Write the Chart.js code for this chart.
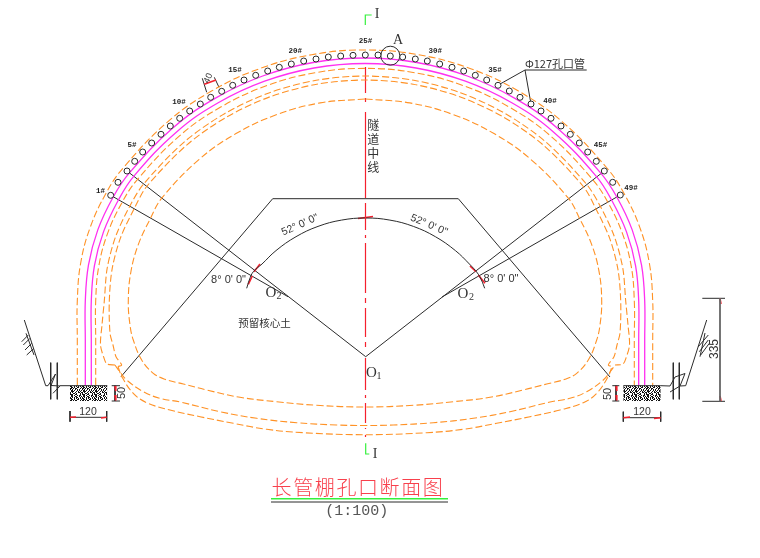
<!DOCTYPE html>
<html><head><meta charset="utf-8">
<style>html,body{margin:0;padding:0;background:#fff}canvas{display:block}</style>
<script src="https://cdn.jsdelivr.net/npm/chart.js@4"></script>
</head><body><canvas id="c" width="760" height="558" style="width:760px;height:558px"></canvas>
<script>
// ---- values (drawing units = reference pixels) ----
const pipeHoles=[[110.7,195.3],[118,182.3],[127,171],[134.7,161.3],[142.7,152],[151.7,143],[161,134.3],[170.3,126],[179.7,118.3],[189.7,111],[200.3,104],[210.7,97.3],[221.7,91.3],[232.7,85.3],[244,80],[255.7,75.3],[267.7,71],[279.3,67.3],[291.3,64],[303.7,61],[316,59],[328.3,57],[340.7,56],[353,55.3],[365.3,55],[378,55],[390.3,56],[402.7,57],[415.3,59],[427.3,61],[439.7,64],[452,67.3],[463.7,71],[475.3,75.3],[486.7,80],[498,85.3],[509.3,91],[520,97.3],[531,104],[541,111],[551,118.3],[561,126],[570.3,134.3],[579.3,143],[587.7,152],[596.3,161.3],[604.3,171],[612.7,182.3],[620.3,195]];
const outerOrange=[[77.3,385],[77.3,340],[77.3,301],[80.6,263.5],[90.3,227.1],[106.2,193],[123.1,168],[167.7,121.8],[211.5,91.1],[260,68.5],[311.7,54.7],[365,50],[418.3,54.7],[470,68.5],[518.5,91.1],[562.3,121.8],[606.9,168],[623.8,193],[639.7,227.1],[649.4,263.5],[652.7,301],[652.7,340],[652.7,385]];
const magentaOuter=[[85.3,385],[85.3,340],[85.3,301],[88.5,264.9],[97.8,229.9],[113.2,197],[129.4,172.9],[172.8,128],[215.5,98.1],[262.7,76],[313.1,62.5],[365,58],[416.9,62.5],[467.3,76],[514.5,98.1],[557.2,128],[600.6,172.9],[616.8,197],[632.2,229.9],[641.5,264.9],[644.7,301],[644.7,340],[644.7,385]];
const magentaInner=[[91.3,385],[91.3,340],[91.3,301],[94.4,265.9],[103.5,231.9],[118.4,200],[133.7,176.3],[176.3,132.2],[218.2,102.8],[264.6,81.2],[314,68],[365,63.5],[416,68],[465.4,81.2],[511.8,102.8],[553.7,132.2],[596.3,176.3],[611.6,200],[626.5,231.9],[635.6,265.9],[638.7,301],[638.7,340],[638.7,385]];
const liningOrange=[[95.7,385],[95.7,340],[95.7,301],[98.7,266.7],[107.6,233.4],[122.2,202.2],[137.6,179.3],[179.5,135.9],[220.7,107.1],[266.3,85.8],[314.9,72.8],[365,68.4],[415.1,72.8],[463.7,85.8],[509.3,107.1],[550.5,135.9],[592.4,179.3],[607.8,202.2],[622.4,233.4],[631.3,266.7],[634.3,301],[634.3,340],[634.3,385]];
const archA=[[115,365],[107,364],[104,358],[100.5,345],[102,325],[104.3,301],[107.2,268.2],[115.7,236.4],[129.6,206.5],[143.6,184],[184.4,141.8],[224.5,113.7],[268.9,92.9],[316.2,80.3],[365,76],[413.8,80.3],[461.1,92.9],[505.5,113.7],[545.6,141.8],[586.4,184],[600.4,206.5],[614.3,236.4],[622.8,268.2],[625.7,301],[628,325],[629.5,345],[626,358],[623,364],[615,365]];
const archB=[[118,366.5],[121.7,365],[116,356.7],[113,345],[110,333],[109.3,301],[112.1,269.1],[120.4,238.1],[134,209],[146.7,186.5],[187,144.8],[226.5,117.1],[270.3,96.7],[316.9,84.2],[365,80],[413.1,84.2],[459.7,96.7],[503.5,117.1],[543,144.8],[583.3,186.5],[596,209],[609.6,238.1],[617.9,269.1],[620.7,301],[620,333],[617,345],[614,356.7],[608.3,365],[612,366.5]];
const invertA=[[115,365],[120,372],[126.7,380],[143.3,391.7],[160,398.3],[180,402],[220,411.7],[256.7,418.3],[296.7,422.7],[336.7,425],[365,425.5],[393.3,425],[433.3,422.7],[473.3,418.3],[510,411.7],[550,402],[570,398.3],[586.7,391.7],[603.3,380],[610,372],[615,365]];
const invertB=[[118,366.5],[122,377],[133.3,393.3],[146.7,402.7],[170,410],[200,416.7],[233.3,423.3],[266.7,429.3],[303.3,432.7],[365,434.7],[426.7,432.7],[463.3,429.3],[496.7,423.3],[530,416.7],[560,410],[583.3,402.7],[596.7,393.3],[608,377],[612,366.5]];
const innerLoop=[[365,99],[320.2,102.9],[276.8,114.6],[236,133.6],[199.2,159.4],[161.7,198.2],[150.4,218.5],[138.3,244.6],[130.8,272.4],[128.3,301],[130,325],[133.3,340],[141.7,360],[153.3,373.3],[165,379.3],[183.3,384],[206.7,390],[240,397.3],[276.7,401.7],[316.7,405.3],[365,407],[413.3,405.3],[453.3,401.7],[490,397.3],[523.3,390],[546.7,384],[565,379.3],[576.7,373.3],[588.3,360],[596.7,340],[600,325],[601.7,301],[599.2,272.4],[591.7,244.6],[579.6,218.5],[568.3,198.2],[530.8,159.4],[494,133.6],[453.2,114.6],[409.8,102.9],[365,99]];
const centreSegments=[[[365.5,67],[365.5,93]],[[365.5,98],[365.5,102]],[[365.5,112],[365.5,198]],[[365.5,203],[365.5,230]],[[365.5,235],[365.5,238]],[[365.5,243],[365.5,293]],[[365.5,298],[365.5,303]],[[365.5,308],[365.5,337]],[[365.5,342],[365.5,347]],[[365.5,358],[365.5,390]],[[365.5,395],[365.5,398]],[[365.5,403],[365.5,423]],[[365.5,428],[365.5,429]],[[365.5,435],[365.5,437]]];
const angleArc=[[246.7,288.3],[249.3,280],[253.3,271.7],[262,264],[276,250.6],[296,236.7],[318,226.4],[341.5,220.1],[365.7,218],[389.9,220.1],[413.4,226.4],[435.4,236.7],[455.4,250.6],[469.4,264],[477.4,273],[481.4,280],[484.7,288.3]];
const blackLines=[
 [[121,376.7],[272.7,198.7],[458.3,198.7],[610,377]],
 [[127,171],[365.7,356.7],[604.3,171]],
 [[110.7,195.3],[288,296.7]],
 [[620.3,195],[442,297]],
 [[498.3,85],[525,70],[586.7,70]],
 [[531,104],[525,70]],
 [[24.3,320],[45.7,385.7],[48,385.7],[55.5,374],[51,385.5],[60,386],[53,393.3]],
 [[60,385.7],[70,385.7]],
 [[50.7,362.7],[50.7,399.3]],[[57.3,362.7],[57.3,399.3]],
 [[26,333.3],[34,355]],
 [[21.7,341.7],[28.3,335]],[[23.3,345],[30,338.3]],[[25,350],[31.7,343.3]],[[26.7,355],[34,348.3]],
 [[706.7,320],[685.7,385.7],[680,386],[685,373.5],[675,377],[670,386],[660.7,385.7]],
 [[680,386],[670,392]],
 [[673.3,362.7],[673.3,399.3]],[[679.3,362.7],[679.3,399.3]],
 [[705,333],[700,356.7]],
 [[698.3,346.7],[708.3,335]],[[699.3,351.7],[708.3,340]],[[700.7,355],[709.3,343.3]],
 [[70,411],[70,421.7]],[[106.7,411],[106.7,421.7]],[[70,417.3],[106.7,417.3]],
 [[623.3,411.7],[623.3,421.7]],[[660.7,411.7],[660.7,421.7]],[[623.3,417.7],[660.7,417.7]],
 [[111.7,385.7],[120,385.7]],[[111.7,401],[120,401]],[[115,385.7],[115,401]],
 [[612.3,385.7],[619.3,385.7]],[[612.3,401],[619.3,401]],[[616,385.7],[616,401]],
 [[702.3,298.3],[725,298.3]],[[702.3,401.3],[725,401.3]],
 [[202.3,78.3],[206.7,92.3]],[[214.3,77.3],[219,87.3]],
 [[271,502],[448,502]]
];
const greyDim=[[720,298.3],[720,401.3]];
const redTicks=[
 [[358,218.5],[373,216.5]],[[254,271.7],[260,264]],[[248.3,284.3],[252.3,276]],
 [[470,266],[476,271.7]],[[478.3,275],[485,283.3]],
 [[70,417.3],[76,417]],[[101,418],[106.7,417.3]],
 [[623.3,417.7],[630,417]],[[654,418.5],[660.7,417.7]],
 [[115,386],[115.8,391]],[[115,395],[115.8,400.5]],
 [[616,386],[616.8,391]],[[616,395],[616.8,400.5]],
 [[720,298.6],[721,304]],[[720,396],[721,401]],
 [[204.3,84.3],[216,80]]
];
const greenMarks=[[[371.7,15],[365.3,15],[365.3,25]],[[365.7,443.3],[365.7,454],[369.3,454]],[[271,498.7],[448,498.7]]];
const footLeft=[[70,385.7],[107.3,385.7]];
const footRight=[[623.3,385.7],[660.7,385.7]];
const footBottom=401;
const ringA=[[390.3,55.7]];
const holeLabels=[["1#",100.5,190.7],["5#",132,145.3],["10#",179,101.7],["15#",235,70.3],["20#",295.3,51.3],["25#",365.5,41],["30#",435.3,51],["35#",495,70],["40#",550,101],["45#",600.5,145.3],["49#",631,188.3]];
const serifLabels=[["I",377,14,14],["I",375,454,14],["A",398,40,14],["O",371.5,373,15],["1",379,376,10],["O",271,293,15],["2",279,296,10],["O",463,294,15],["2",471.5,297,10]];
const sansLabels=[["120",88,412,10.5,0],["120",642,412,10.5,0],["50",122,393,11,-90],["50",608.3,394,11,-90],["335",715,349,12,-90],["40",208.3,78.3,9,-65],["8° 0' 0\"",228.5,280,11,0],["8° 0' 0\"",501,279,11,0],["52° 0' 0\"",300,225,10.5,-24],["52° 0' 0\"",429,225,10.5,23]];
const cjkLabels=[["隧",373.3,125,12],["道",373.3,139.3,12],["中",373.3,153.3,12],["线",373.3,167.7,12],["预留核心土",264.5,323,10.5],["Φ127孔口管",555,64,11]];
const titleText="长管棚孔口断面图";
const scaleText="(1:100)";
const speckle=["x..xx..x.x.x","x.x.xx..x.x.","..x.x.x.x.xx","x.x..xx..x.x",".x.xx...x.xx","x..x.x.x..x.","x.x..x.x.x.x","xx..x.x.x..x","x..x..xx.xx.",".xx.x...x.x.","x..xx...x.xx","x.x..x.xx..x"];
// ---- styling ----
const BLACK="#2b2b2b",ORANGE="#ff9226",MAGENTA="#ff30f0",RED="#f5202e",GREEN="#35f03c";
const xy=p=>p.map(([x,y])=>({x,y}));
function pat(){const c=document.createElement("canvas");c.width=c.height=12;const g=c.getContext("2d");g.fillStyle="#fff";g.fillRect(0,0,12,12);g.fillStyle="#111";
 speckle.forEach((r,j)=>[...r].forEach((ch,i)=>{if(ch==="x")g.fillRect(i,j,1,1)}));return g.createPattern(c,"repeat");}
const fillPat=pat();
const line=(p,color,w,dash,tension)=>({data:xy(p),borderColor:color,borderWidth:w,borderDash:dash||[],tension:tension||0,pointRadius:0,fill:false});
const DASH=[7,3];
const datasets=[
 {data:xy(pipeHoles),showLine:false,pointRadius:3,pointBorderWidth:1,pointBorderColor:BLACK,pointBackgroundColor:"#fff"},
 {data:xy(ringA),showLine:false,pointRadius:9.5,pointBorderWidth:1,pointBorderColor:BLACK,pointBackgroundColor:"rgba(0,0,0,0)"},
 line(magentaOuter,MAGENTA,1.3,null,.4),
 line(magentaInner,MAGENTA,1.3,null,.4),
 line(outerOrange,ORANGE,1.1,DASH,.4),
 line(liningOrange,ORANGE,1.1,DASH,.4),
 line(archA,ORANGE,1.1,DASH,.3),
 line(archB,ORANGE,1.1,DASH,.3),
 line(invertA,ORANGE,1.1,DASH,.4),
 line(invertB,ORANGE,1.1,DASH,.4),
 line(innerLoop,ORANGE,1.1,DASH,.4),
 ...centreSegments.map(p=>line(p,RED,1.2)),
 line(angleArc,BLACK,1,null,.4),
 line(greyDim,"#666",1.8),
 ...redTicks.map(p=>line(p,RED,1.6)),
 ...greenMarks.map((p,i)=>line(p,GREEN,i===2?1.6:1.2)),
 ...blackLines.map(p=>line(p,BLACK,1)),
 {data:xy(footLeft),borderColor:BLACK,borderWidth:1,pointRadius:0,fill:{value:footBottom},backgroundColor:fillPat},
 {data:xy(footRight),borderColor:BLACK,borderWidth:1,pointRadius:0,fill:{value:footBottom},backgroundColor:fillPat}
];
const textPlugin={id:"drawingText",afterDatasetsDraw(ch){
 const g=ch.ctx,X=ch.scales.x,Y=ch.scales.y;
 const put=(t,x,y,font,color,rot,spacing)=>{g.save();g.translate(X.getPixelForValue(x),Y.getPixelForValue(y));
  if(rot)g.rotate(rot*Math.PI/180);g.font=font;g.fillStyle=color;g.textAlign="center";g.textBaseline="middle";
  if(spacing)g.letterSpacing=spacing;g.fillText(t,0,0);g.restore();};
 holeLabels.forEach(([t,x,y])=>put(t,x,y,'bold 7.5px "Liberation Mono"',"#222"));
 serifLabels.forEach(([t,x,y,s])=>put(t,x,y,s+'px "Liberation Serif"',"#333"));
 sansLabels.forEach(([t,x,y,s,r])=>put(t,x,y,s+'px "Liberation Sans"',"#333",r));
 cjkLabels.forEach(([t,x,y,s])=>put(t,x,y,s+'px "Noto Sans CJK SC"',"#333"));
 put(titleText,358,487,'300 20px "Noto Sans CJK SC"',"#f8404c",0,"1.6px");
 put(scaleText,356.7,511.5,'15px "Liberation Mono"',"#555");
}};
new Chart(document.getElementById("c"),{type:"line",data:{datasets},plugins:[textPlugin],options:{
 responsive:false,animation:false,parsing:true,normalized:false,spanGaps:true,
 layout:{padding:0,autoPadding:false},
 plugins:{legend:{display:false},tooltip:{enabled:false},title:{display:false}},
 scales:{x:{type:"linear",min:0,max:760,display:false},y:{type:"linear",min:0,max:558,reverse:true,display:false}}
}});
</script></body></html>
